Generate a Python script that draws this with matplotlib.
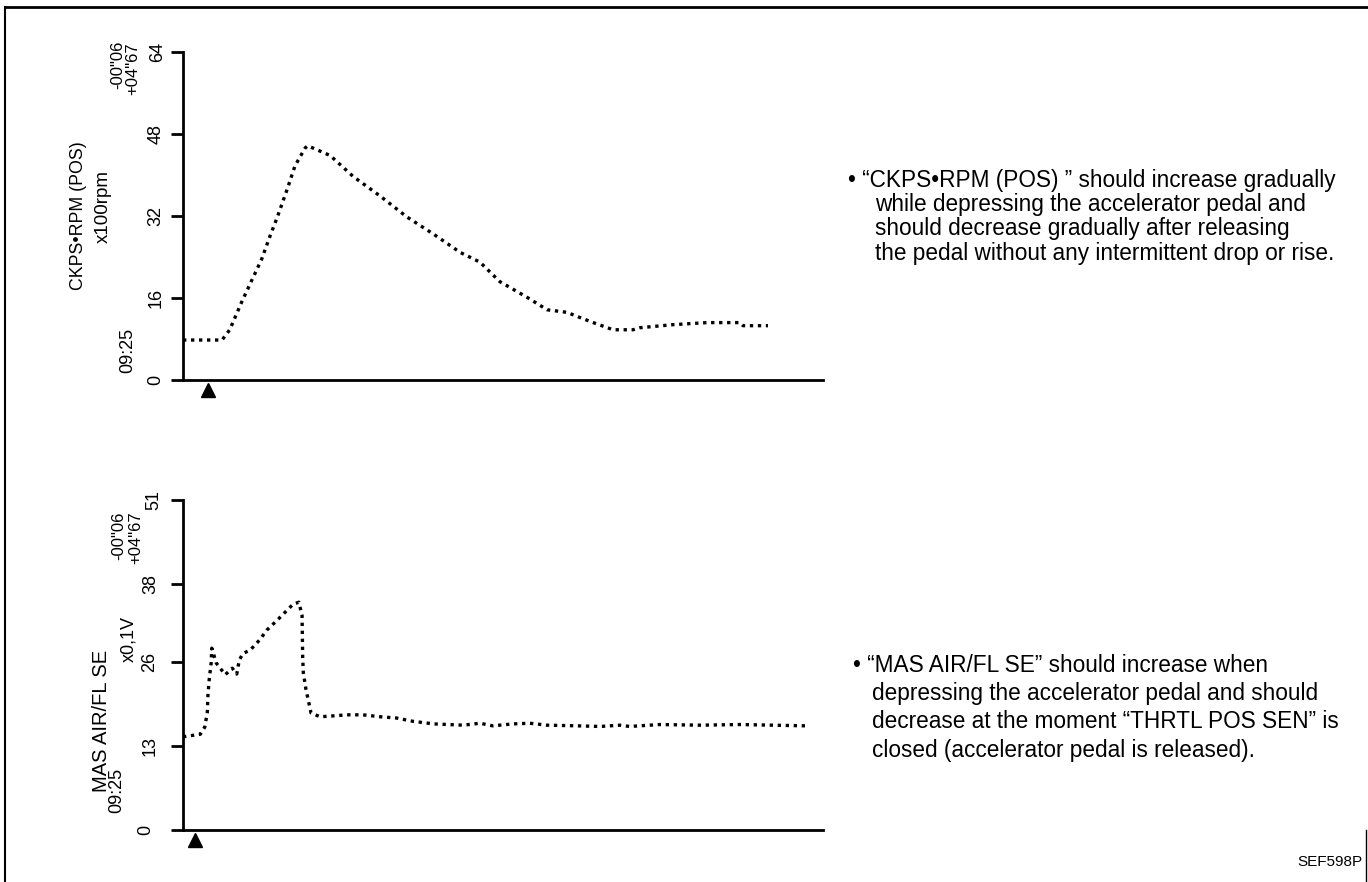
'''
Consult-style trace of CKPS RPM and MAS AIR/FL SE while the pedal is
depressed and released. Output: out.png
'''

import matplotlib.pyplot as plt
import matplotlib.transforms as mtrans
from matplotlib.lines import Line2D

plt.rcParams['font.family'] = ['Liberation Sans', 'DejaVu Sans']

# CKPS RPM (x100rpm) trace, time in arbitrary sweep units (0-100)
rpm_t = [0, 6.1, 7.3, 9.2, 10.8, 12.3, 13.6, 14.8, 16.3, 17.5, 19.1, 19.5,
         23.0, 26.6, 30.8, 35.0, 39.1, 43.3, 46.4, 49.5, 53.8, 56.9, 60.0,
         62.0, 64.1, 67.2, 70.3, 71.4, 76.6, 81.9, 87.0, 87.5, 91.4]
rpm_val = [7.8, 7.8, 9.8, 15.3, 19.6, 23.6, 28.1, 32.0, 37.3, 41.8, 45.3, 45.7,
           43.8, 39.7, 35.9, 31.8, 28.5, 24.9, 23.0, 19.2, 16.1, 13.7, 13.2,
           12.2, 11.2, 9.8, 9.8, 10.2, 10.8, 11.2, 11.2, 10.6, 10.6]

# MAS AIR/FL SE (x0.1V) trace
maf_t = [0, 2.7, 3.4, 3.8, 3.9, 4.1, 4.4, 4.5, 5.2, 6.6, 7.7, 8.4, 8.8, 9.4,
         10.5, 12.0, 13.1, 14.7, 16.3, 17.2, 18.1, 18.6, 18.7, 18.8, 19.2,
         20.0, 21.4, 23.0, 25.6, 28.1, 30.8, 33.4, 35.9, 39.1, 43.8, 46.4,
         48.4, 51.6, 54.2, 56.9, 61.6, 65.2, 68.3, 69.8, 74.5, 80.8, 87.0, 97.2]
maf_val = [14.4, 14.8, 15.9, 18.2, 20.9, 23.3, 25.8, 28.1, 25.8, 24.0, 25.0,
           24.1, 26.3, 27.3, 27.8, 29.4, 30.9, 32.4, 34.0, 34.9, 35.2, 33.2,
           26.7, 24.3, 21.8, 18.1, 17.5, 17.6, 17.8, 17.8, 17.5, 17.3, 16.8,
           16.4, 16.2, 16.5, 16.1, 16.4, 16.5, 16.2, 16.1, 16.0, 16.2, 16.0,
           16.3, 16.2, 16.3, 16.1]

rpm_ticks = [0, 16, 32, 48, 64]
maf_ticks = [0, 13, 26, 38, 51]

rpm_note = ['\u2022 \u201cCKPS\u2022RPM (POS) \u201d should increase gradually',
            'while depressing the accelerator pedal and',
            'should decrease gradually after releasing',
            'the pedal without any intermittent drop or rise.']
maf_note = ['\u2022 \u201cMAS AIR/FL SE\u201d should increase when',
            'depressing the accelerator pedal and should',
            'decrease at the moment \u201cTHRTL POS SEN\u201d is',
            'closed (accelerator pedal is released).']

W, H = 1368, 882
fig = plt.figure(figsize=(W / 100, H / 100), dpi=100)


def px(x, y):
    return x / W, 1 - y / H


def setup(ax, ticks, label_x, trig_t, trig_y):
    ax.set_xlim(0, 100)
    ax.set_ylim(ticks[0], ticks[-1])
    for s in ['top', 'right']:
        ax.spines[s].set_visible(False)
    for s in ['left', 'bottom']:
        ax.spines[s].set_linewidth(2)
    ax.set_xticks([])
    ax.set_yticks(ticks)
    ax.set_yticklabels([])
    ax.tick_params(axis='y', length=9, width=2)
    # tick numbers, hand placed since the scan drifts a little leftwards
    tr = mtrans.blended_transform_factory(ax.transAxes, ax.transData)
    for t, lx in zip(ticks, label_x):
        ax.text(lx, t, str(t), transform=tr, rotation=90, ha='center',
                va='center', fontsize=13)
    # trigger marker below the time axis
    ax.plot([trig_t], [trig_y], marker='^', color='black', markersize=10,
            clip_on=False)


dots = dict(color='black', linewidth=2.4, linestyle=(0, (1, 1.4)))

# top chart
ax1 = fig.add_axes([183 / W, 1 - 380 / H, 640 / W, 328 / H])
setup(ax1, rpm_ticks, [-0.042, -0.042, -0.042, -0.042, -0.040], 3.9, -2.0)
ax1.plot(rpm_t, rpm_val, **dots)
ax1.text(-0.164, 0.50, 'CKPS\u2022RPM (POS)', transform=ax1.transAxes,
         rotation=90, ha='center', va='center', fontsize=12.8)
ax1.text(-0.125, 0.53, 'x100rpm', transform=ax1.transAxes,
         rotation=90, ha='center', va='center', fontsize=13.5)
ax1.text(-0.086, 0.09, '09:25', transform=ax1.transAxes,
         rotation=90, ha='center', va='center', fontsize=13)
ax1.text(-0.102, 0.96, '-00"06', transform=ax1.transAxes,
         rotation=90, ha='center', va='center', fontsize=12)
ax1.text(-0.078, 0.95, '+04"67', transform=ax1.transAxes,
         rotation=90, ha='center', va='center', fontsize=12)

# bottom chart
ax2 = fig.add_axes([183 / W, 1 - 830 / H, 640 / W, 330 / H])
setup(ax2, maf_ticks, [-0.058, -0.052, -0.052, -0.050, -0.046], 1.9, -1.5)
ax2.plot(maf_t, maf_val, **dots)
ax2.text(-0.128, 0.33, 'MAS AIR/FL SE', transform=ax2.transAxes,
         rotation=90, ha='center', va='center', fontsize=14.5)
ax2.text(-0.084, 0.58, 'x0,1V', transform=ax2.transAxes,
         rotation=90, ha='center', va='center', fontsize=13)
ax2.text(-0.104, 0.12, '09:25', transform=ax2.transAxes,
         rotation=90, ha='center', va='center', fontsize=13)
ax2.text(-0.100, 0.89, '-00"06', transform=ax2.transAxes,
         rotation=90, ha='center', va='center', fontsize=12)
ax2.text(-0.074, 0.885, '+04"67', transform=ax2.transAxes,
         rotation=90, ha='center', va='center', fontsize=12)

# notes on the right
for i, line in enumerate(rpm_note):
    x = 848 if i == 0 else 875
    fig.text(*px(x, 180 + 24.5 * i), line, ha='left', va='center',
             fontsize=16.3)
for i, line in enumerate(maf_note):
    x = 853 if i == 0 else 872
    fig.text(*px(x, 665 + 28.5 * i), line, ha='left', va='center',
             fontsize=16.3)

fig.text(*px(1362, 862), 'SEF598P', ha='right', va='center', fontsize=11)

# page frame
fig.add_artist(Line2D([px(5, 7)[0], 1], [px(5, 7)[1]] * 2, color='black', lw=2))
fig.add_artist(Line2D([px(5, 7)[0]] * 2, [px(5, 7)[1], 0], color='black', lw=1.5))
fig.add_artist(Line2D([px(1366, 0)[0]] * 2, [px(0, 830)[1], 0], color='black', lw=1))

plt.savefig('out.png', dpi=100)
